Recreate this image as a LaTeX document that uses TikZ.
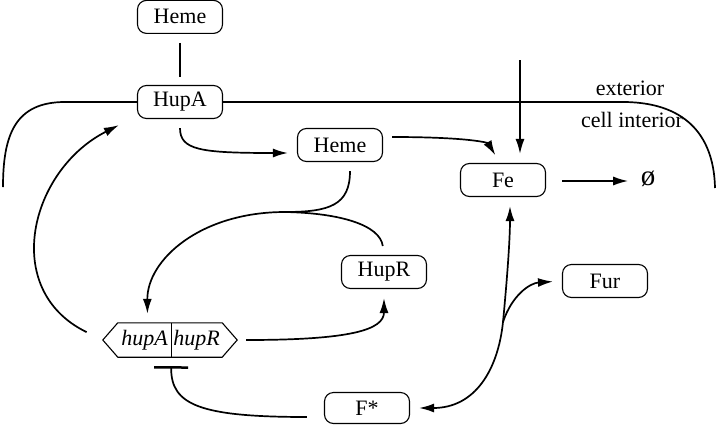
\documentclass[tikz,border=0pt]{standalone}
\usepackage{fontspec}
\setmainfont{Liberation Serif}
\usetikzlibrary{positioning,arrows.meta,calc}

\begin{document}
\begin{tikzpicture}[
    x=1pt, y=-1pt,
    font=\fontsize{22}{26}\selectfont,
    species/.style={draw, rounded corners=9pt, line width=1.1pt, minimum width=85pt, minimum height=33pt, inner sep=2pt},
    gene/.style={minimum height=34pt, inner sep=0pt, font=\fontsize{22}{26}\selectfont\itshape},
    arr/.style={-{Latex[length=15pt,width=9pt]}, line width=1.7pt, shorten >=9pt, shorten <=9pt},
    biarr/.style={{Latex[length=15pt,width=9pt]}-{Latex[length=15pt,width=9pt]}, line width=1.7pt, shorten >=9pt, shorten <=9pt},
    wire/.style={line width=1.7pt, shorten <=9pt},
    repress/.style={-{Bar[width=34pt,line width=2.5pt]}, line width=1.7pt, shorten >=9pt},
    membrane/.style={line width=1.7pt},
]
\useasboundingbox (0,0) rectangle (717,426);

% Species
\node[species] (hupA) at (180,102) {HupA};
\node[species, above=51pt of hupA] (hemeout) {Heme};
\node[species] (hemein) at (340,145) {Heme};
\node[species] (fe) at (503,180) {Fe};
\node[font=\fontsize{29}{30}\selectfont] (nil) at (648,179) {ø};
\node[species] (hupR) at (384,272) {HupR};
\node[species] (fur) at (605,281) {Fur};
\node[species, minimum height=31pt] (fstar) at (367,408) {F*};

% Operon hupA-hupR
\node[gene, minimum width=53pt] (geneA) at (144.5,340) {hupA};
\node[gene, minimum width=51pt] (geneR) at (196.5,340) {hupR};
\draw[line width=1.1pt] (geneA.north west) -- (geneR.north east) -- ($(geneR.east)+(15,0)$)
    -- (geneR.south east) -- (geneA.south west) -- ($(geneA.west)+(-15,0)$) -- cycle;
\draw[line width=1.1pt] (geneA.north east) -- (geneA.south east);

% Cell membrane
\coordinate (mleft) at (3,187);
\coordinate (mright) at (715,188);
\draw[membrane] (hupA.west) -- (65,102) .. controls (15,102) and (3,135) .. (mleft);
\draw[membrane] (hupA.east) -- (625,102) .. controls (690,103) and (714,140) .. (mright);
\node (outside) at (630,88) {exterior};
\node (inside) at (632,120) {cell interior};

% Heme uptake
\draw[wire, shorten >=8pt] (hemeout) -- (hupA);
\draw[arr] (hupA.south) .. controls (180,150) and (200,153) .. ($(hemein.west)+(0,8)$);
\draw[arr] ($(hemein.east)+(0,-8)$) .. controls (470,137) and (488,143) .. ($(fe.north)+(-3,0)$);

% Iron influx and decay
\coordinate (src) at (520,60);
\draw[arr, shorten <=0pt] (src) -- (src |- fe.north);
\draw[arr, shorten <=16pt] ($(fe.east)+(0,1)$) -- ($(nil.west)+(0,2)$);

% Regulation of the operon
\coordinate (merge) at (285,212);
\draw[wire] ($(hemein.south)+(10,0)$) .. controls (350,205) and (330,212) .. (merge);
\draw[wire] (hupR.north) .. controls (380,225) and (340,213) .. (merge);
\draw[arr, shorten <=0pt] (merge) .. controls (200,212) and (147,260) .. ($(geneA.north)+(3,0)$);
\draw[arr] ($(geneR.east)+(15,0)$) .. controls (350,340) and (384,330) .. (hupR.south);
\draw[arr, shorten <=18pt] ($(geneA.west)+(-15,0)$) .. controls (0,290) and (30,170) .. ($(hupA.south west)+(-10,2)$);
\draw[repress, shorten <=17pt] ($(fstar.west)+(0,9)$) .. controls (200,417) and (171,405) .. (geneA.south east);

% Fur / iron complex
\coordinate (split) at (503,322);
\draw[biarr] (fstar.east) .. controls (475,408) and (498,370) .. (split)
    .. controls (507,280) and (510,240) .. ($(fe.south)+(7,0)$);
\draw[arr, shorten <=0pt] (split) .. controls (512,295) and (530,283) .. (fur.west);

\end{tikzpicture}
\end{document}
